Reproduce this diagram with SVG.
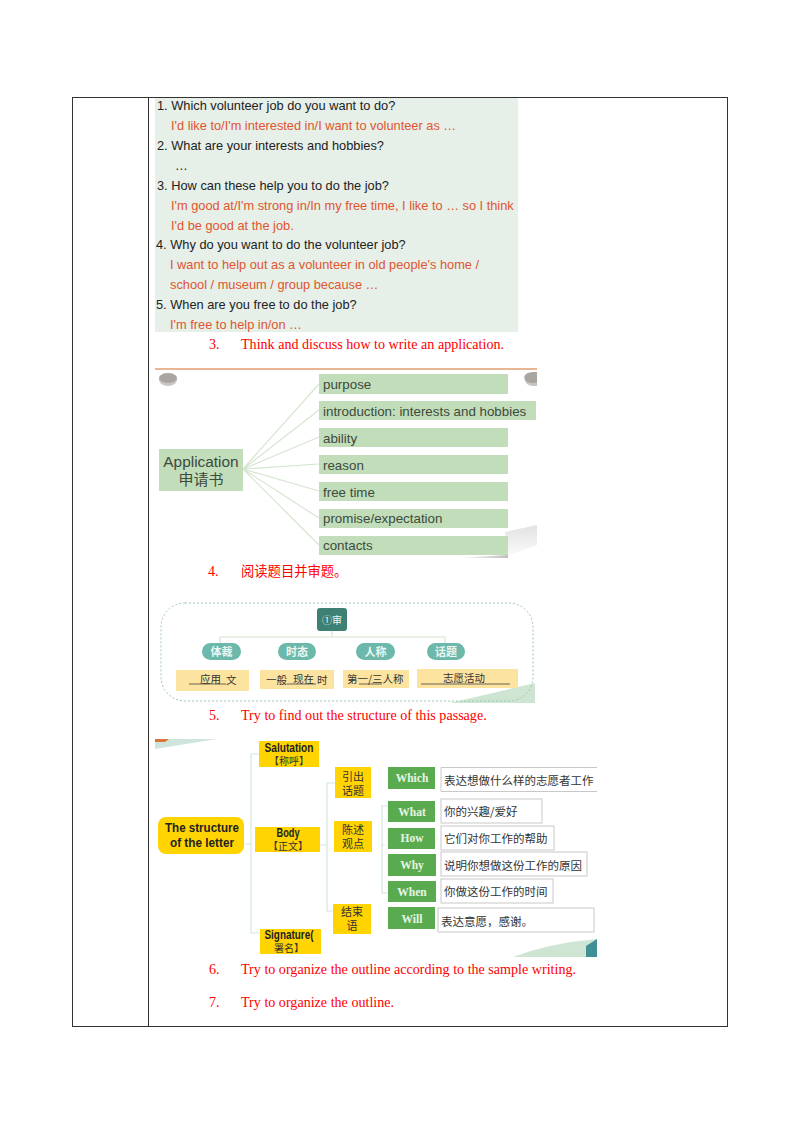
<svg xmlns="http://www.w3.org/2000/svg" width="800" height="1132" viewBox="0 0 800 1132">
<defs>
<linearGradient id="curl" x1="0" y1="0" x2="0" y2="1"><stop offset="0" stop-color="#e2e2e2"/><stop offset="1" stop-color="#fafafa"/></linearGradient>
<linearGradient id="shadow" x1="0" y1="0" x2="1" y2="0"><stop offset="0" stop-color="#fff"/><stop offset="1" stop-color="#bdbdbd"/></linearGradient>
</defs>
<style>
.q{font:12.8px "Liberation Sans",sans-serif;fill:#222}
.a{font:12.8px "Liberation Sans",sans-serif;fill:#e0552f}
.r{font:14.1px "Liberation Serif","Noto Sans CJK SC",serif;fill:#f00}
.b{fill:#c1ddb9}
.bt{font:13.35px "Liberation Sans",sans-serif;fill:#3d4a3d}
.ln{fill:none;stroke:#d5e6d0;stroke-width:1.2}
.pill{fill:#6cb8aa}
.pt{font:bold 11px "Noto Sans CJK SC",sans-serif;fill:#eef7f4;text-anchor:middle}
.y{fill:#fde3a0}
.yt{font:10.5px "Noto Sans CJK SC",sans-serif;fill:#333}
.u{stroke:#444;stroke-width:.8}
.g{fill:#ffd400}
.gt{font:bold 12px "Liberation Sans","Noto Sans CJK SC",sans-serif;fill:#222;text-anchor:middle}
.gs{font:10px "Noto Sans CJK SC",sans-serif;fill:#333;text-anchor:middle}
.gc{font:11px "Noto Sans CJK SC",sans-serif;fill:#333;text-anchor:middle}
.tl{fill:none;stroke:#d5e6e2;stroke-width:1.2}
.gn{fill:#5aab50}
.gnt{font:bold 11.5px "Liberation Serif",serif;fill:#e8f5e4;text-anchor:middle}
.w{fill:#fff;stroke:#c8c8c8;stroke-width:1}
.wt{font:11.5px "Noto Sans CJK SC",sans-serif;fill:#333}
</style>
<rect width="800" height="1132" fill="#fff"/>
<g id="table" fill="none" stroke="#333" stroke-width="1">
<rect x="72.500" y="97.500" width="655" height="929"/>
<path d="M148.500 97.500V1026.500"/>
</g>

<g id="panel-questions">
<rect x="155" y="98" width="363" height="234" fill="#e6efe8"/>
<text class="q" x="157" y="110">1. Which volunteer job do you want to do?</text>
<text class="a" x="171" y="130">I'd like to/I'm interested in/I want to volunteer as …</text>
<text class="q" x="157" y="150">2. What are your interests and hobbies?</text>
<text class="q" x="175" y="170">…</text>
<text class="q" x="157" y="190">3. How can these help you to do the job?</text>
<text class="a" x="171" y="210">I'm good at/I'm strong in/In my free time, I like to … so I think</text>
<text class="a" x="171" y="230">I'd be good at the job.</text>
<text class="q" x="156" y="249">4. Why do you want to do the volunteer job?</text>
<text class="a" x="170" y="269">I want to help out as a volunteer in old people's home /</text>
<text class="a" x="170" y="289">school / museum / group because …</text>
<text class="q" x="156" y="309">5. When are you free to do the job?</text>
<text class="a" x="170" y="329">I'm free to help in/on …</text>
</g>

<g id="heading-3"><text class="r" x="209" y="349">3.</text><text class="r" x="241" y="349">Think and discuss how to write an application.</text></g>

<g id="panel-application-decor">
<rect x="155" y="368" width="382" height="2" fill="#e8b595"/>
<ellipse cx="168" cy="380" rx="9" ry="6" fill="#c9c6c2"/>
<ellipse cx="168" cy="378" rx="9" ry="5" fill="#a9a5a0"/>
<path d="M537 374h-4a8 6 0 0 0 0 12h4z" fill="#c9c6c2"/>
<path d="M537 372h-4a8 5 0 0 0 0 11h4z" fill="#a9a5a0"/>
<path d="M537 525 L505 532 L508 556 L537 545Z" fill="url(#curl)"/>
<path d="M457 558L508 555V558Z" fill="url(#shadow)"/>
</g>
<g id="connectors-application">
<path class="ln" d="M243 469L319 384M243 469L319 410M243 469L319 437M243 469L319 464M243 469L319 491M243 469L319 518M243 469L319 545"/>
</g>
<g id="node-application"><rect class="b" x="159" y="449" width="84" height="42"/>
<text class="bt" x="201" y="467" text-anchor="middle" style="font-size:15.400px">Application</text>
<text class="bt" x="201" y="485" text-anchor="middle" style="font:15px 'Noto Sans CJK SC',sans-serif">申请书</text></g>
<g id="node-purpose"><rect class="b" x="319" y="374" width="189" height="20"/><text class="bt" x="323" y="388.500">purpose</text></g>
<g id="node-introduction"><rect class="b" x="319" y="401" width="217" height="19"/><text class="bt" x="323" y="415.500">introduction: interests and hobbies</text></g>
<g id="node-ability"><rect class="b" x="319" y="428" width="189" height="19"/><text class="bt" x="323" y="442.500">ability</text></g>
<g id="node-reason"><rect class="b" x="319" y="455" width="189" height="19"/><text class="bt" x="323" y="469.500">reason</text></g>
<g id="node-free-time"><rect class="b" x="319" y="482" width="189" height="19"/><text class="bt" x="323" y="496.500">free time</text></g>
<g id="node-promise"><rect class="b" x="319" y="509" width="189" height="19"/><text class="bt" x="323" y="522.500">promise/expectation</text></g>
<g id="node-contacts"><rect class="b" x="319" y="536" width="189" height="19"/><text class="bt" x="323" y="549.500">contacts</text></g>

<g id="heading-4"><text class="r" x="208" y="576">4.</text><text class="r" x="241" y="576" style="font-size:13.300px">阅读题目并审题。</text></g>

<g id="panel-review-decor">
<path d="M450 703L535 683V703Z" fill="#cfe5d3"/>
<rect x="161" y="603" width="372" height="98" rx="24" fill="none" stroke="#9cc9ae" stroke-width="1" stroke-dasharray="2 2"/>
</g>
<g id="connectors-review"><path class="ln" d="M332 631V637M220 643V637H445V643"/></g>
<g id="node-shen"><rect x="317" y="608" width="30" height="23" rx="3" fill="#3d8074"/><text class="pt" x="332" y="624" style="font-weight:400;font-size:10px">①审</text></g>
<g id="node-ticai"><rect class="pill" x="202" y="643" width="39" height="17" rx="8.500"/><text class="pt" x="221.500" y="656">体裁</text></g>
<g id="node-shitai"><rect class="pill" x="278" y="643" width="38" height="17" rx="8.500"/><text class="pt" x="297" y="656">时态</text></g>
<g id="node-renchen"><rect class="pill" x="356" y="643" width="39" height="17" rx="8.500"/><text class="pt" x="375.500" y="656">人称</text></g>
<g id="node-huati"><rect class="pill" x="427" y="643" width="38" height="17" rx="8.500"/><text class="pt" x="446" y="656">话题</text></g>
<g id="node-yingyong"><rect class="y" x="176" y="670" width="73" height="21"/><path class="u" d="M189 684H226"/><text class="yt" x="200" y="683">应用</text><text class="yt" x="226" y="684">文</text></g>
<g id="node-yiban"><rect class="y" x="260" y="670" width="74" height="19"/><path class="u" d="M287 684H316"/><text class="yt" x="266" y="684">一般</text><text class="yt" x="293" y="683">现在</text><text class="yt" x="317" y="684">时</text></g>
<g id="node-diyi"><rect class="y" x="343" y="670" width="66" height="18"/><path class="u" d="M359 684H382"/><text class="yt" x="347" y="683">第一/三人称</text></g>
<g id="node-zhiyuan"><rect class="y" x="417" y="669" width="101" height="19"/><path class="u" d="M421 684H510"/><text class="yt" x="443" y="682">志愿活动</text></g>

<g id="heading-5"><text class="r" x="209" y="720">5.</text><text class="r" x="241" y="720">Try to find out the structure of this passage.</text></g>

<g id="panel-structure-decor">
<path d="M155 739H217L155 749Z" fill="#cfe5dc"/>
<path d="M155 739h14l-4 3h-10z" fill="#d9743a"/>
<path d="M513 957Q550 943 597 939V957Z" fill="#cfe5d3"/>
<path d="M586 946l11-7v18h-11z" fill="#3f8f95"/>
</g>
<g id="connectors-structure">
<path class="tl" d="M245 844H251M259 754H251V933H259M320 845H327M335 783H327V911H335M385 845H381M388 806H382V893H388"/>
</g>
<g id="node-letter"><rect class="g" x="158" y="817" width="86" height="37" rx="8"/><text class="gt" x="202" y="832" textLength="74" lengthAdjust="spacingAndGlyphs" style="font-size:13px">The structure</text><text class="gt" x="202" y="847" textLength="64" lengthAdjust="spacingAndGlyphs" style="font-size:13px">of the letter</text></g>
<g id="node-salutation"><rect class="g" x="259" y="741" width="60" height="26"/><text class="gt" x="289" y="752" textLength="49" lengthAdjust="spacingAndGlyphs">Salutation</text><text class="gs" x="289" y="765">【称呼】</text></g>
<g id="node-body"><rect class="g" x="255" y="827" width="65" height="25"/><text class="gt" x="288" y="837" textLength="23" lengthAdjust="spacingAndGlyphs">Body</text><text class="gs" x="288" y="850">【正文】</text></g>
<g id="node-signature"><rect class="g" x="260" y="929" width="61" height="25"/><text class="gt" x="289" y="939" textLength="49" lengthAdjust="spacingAndGlyphs">Signature(</text><text class="gs" x="289" y="952">署名】</text></g>
<g id="node-yinchu"><rect class="g" x="335" y="767" width="36" height="31"/><text class="gc" x="353" y="781">引出</text><text class="gc" x="353" y="795">话题</text></g>
<g id="node-chenshu"><rect class="g" x="334" y="821" width="38" height="31"/><text class="gc" x="353" y="834">陈述</text><text class="gc" x="353" y="848">观点</text></g>
<g id="node-jieshu"><rect class="g" x="333" y="904" width="38" height="30"/><text class="gc" x="352" y="916">结束</text><text class="gc" x="352" y="930">语</text></g>
<g id="node-which"><rect class="gn" x="388" y="767" width="47" height="22"/><text class="gnt" x="412" y="782">Which</text></g>
<g id="node-what"><rect class="gn" x="388" y="801" width="47" height="21"/><text class="gnt" x="412" y="816">What</text></g>
<g id="node-how"><rect class="gn" x="388" y="828" width="47" height="21"/><text class="gnt" x="412" y="842">How</text></g>
<g id="node-why"><rect class="gn" x="388" y="854" width="48" height="22"/><text class="gnt" x="412" y="869">Why</text></g>
<g id="node-when"><rect class="gn" x="388" y="881" width="48" height="21"/><text class="gnt" x="412" y="896">When</text></g>
<g id="node-will"><rect class="gn" x="388" y="907" width="47" height="22"/><text class="gnt" x="412" y="923">Will</text></g>
<g id="text-which"><path class="w" d="M597 767.500H441V791.500H597"/><text class="wt" x="444" y="785">表达想做什么样的志愿者工作</text></g>
<g id="text-what"><rect class="w" x="441" y="799" width="101" height="24"/><text class="wt" x="444" y="816">你的兴趣/爱好</text></g>
<g id="text-how"><rect class="w" x="441" y="826" width="113" height="24"/><text class="wt" x="444" y="843">它们对你工作的帮助</text></g>
<g id="text-why"><rect class="w" x="441" y="852" width="146" height="24"/><text class="wt" x="444" y="870">说明你想做这份工作的原因</text></g>
<g id="text-when"><rect class="w" x="441" y="879" width="112" height="24"/><text class="wt" x="444" y="896">你做这份工作的时间</text></g>
<g id="text-will"><rect class="w" x="438" y="908" width="156" height="24"/><text class="wt" x="441" y="926">表达意愿，感谢。</text></g>

<g id="heading-6"><text class="r" x="209" y="974">6.</text><text class="r" x="241" y="974">Try to organize the outline according to the sample writing.</text></g>
<g id="heading-7"><text class="r" x="209" y="1007">7.</text><text class="r" x="241" y="1007">Try to organize the outline.</text></g>
</svg>
